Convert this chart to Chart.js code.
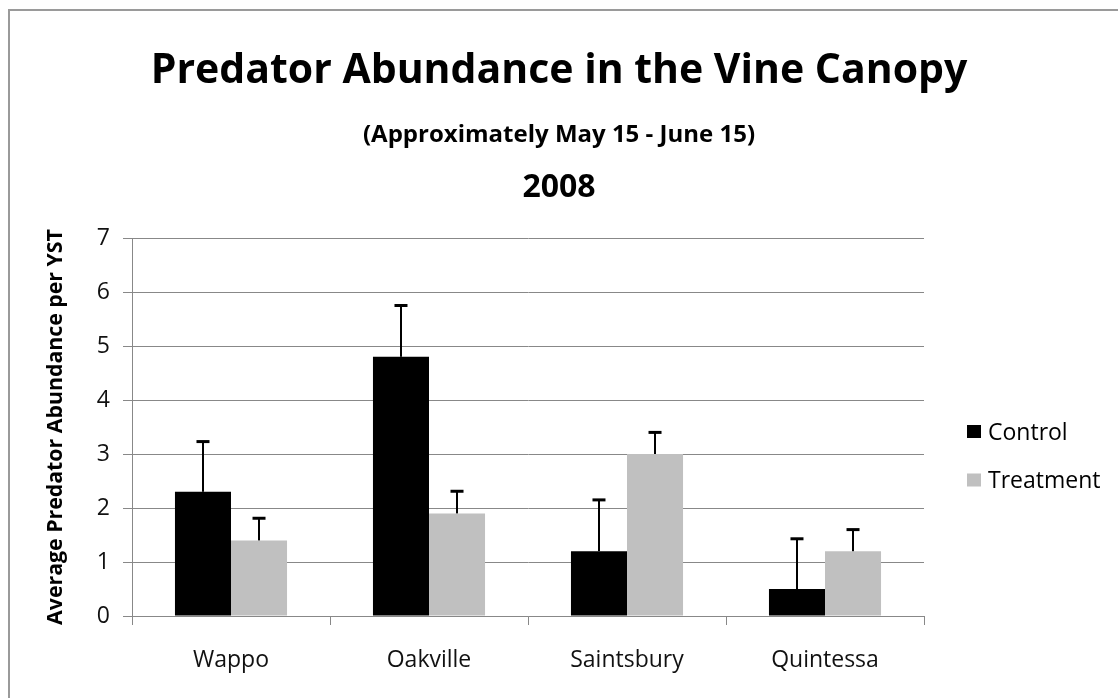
<!DOCTYPE html>
<html><head><meta charset="utf-8">
<script src="https://cdn.jsdelivr.net/npm/chart.js@4.4.1/dist/chart.umd.min.js"></script>
<style>
html,body{margin:0;padding:0;background:#fff;overflow:hidden;}
#frame{position:absolute;left:8px;top:9px;width:1300px;height:900px;border-left:2px solid #9a9a9a;border-top:2px solid #9a9a9a;}
#wrap{position:absolute;left:0;top:0;width:1118px;height:698px;}
</style></head><body>
<div id="frame"></div>
<div id="wrap"><canvas id="c" width="1118" height="698"></canvas></div>
<script>
const categories = ['Wappo', 'Oakville', 'Saintsbury', 'Quintessa'];
const seriesNames = ['Control', 'Treatment'];
const controlValues = [2.3, 4.8, 1.2, 0.5];
const treatmentValues = [1.4, 1.9, 3.0, 1.2];
const controlErrors = [0.93, 0.95, 0.95, 0.93];
const treatmentErrors = [0.41, 0.41, 0.40, 0.40];
const yTicks = [0, 1, 2, 3, 4, 5, 6, 7];
const titleLines = ['Predator Abundance in the Vine Canopy', '(Approximately May 15 - June 15)', '2008'];
const yAxisTitle = 'Average Predator Abundance per YST';

const FONT = '"Open Sans", Lato, sans-serif';
const GRID = '#888888';

const errorBars = {
  id: 'errorBars',
  afterDatasetsDraw(chart) {
    const ctx = chart.ctx, ys = chart.scales.y;
    chart.data.datasets.forEach((ds, di) => {
      const meta = chart.getDatasetMeta(di);
      meta.data.forEach((bar, i) => {
        const top = ys.getPixelForValue(ds.data[i] + ds.errors[i]);
        ctx.save();
        ctx.strokeStyle = '#000';
        ctx.lineWidth = 2;
        ctx.beginPath();
        ctx.moveTo(bar.x, bar.y);
        ctx.lineTo(bar.x, top);
        ctx.stroke();
        ctx.lineWidth = 3;
        ctx.beginPath();
        ctx.moveTo(bar.x - 6.5, top);
        ctx.lineTo(bar.x + 6.5, top);
        ctx.stroke();
        ctx.restore();
      });
    });
  }
};

const titles = {
  id: 'titles',
  afterDraw(chart) {
    const ctx = chart.ctx, cx = chart.width / 2;
    const specs = [
      {size: 41, y: 83},
      {size: 24, y: 142},
      {size: 32, y: 197}
    ];
    ctx.save();
    ctx.fillStyle = '#000';
    ctx.textAlign = 'center';
    ctx.textBaseline = 'alphabetic';
    titleLines.forEach((t, i) => {
      ctx.font = 'bold ' + specs[i].size + 'px ' + FONT;
      ctx.fillText(t, cx, specs[i].y);
    });
    ctx.restore();
  }
};

const sideLegend = {
  id: 'sideLegend',
  afterDraw(chart) {
    const ctx = chart.ctx;
    const x = chart.chartArea.right + 43;
    const rows = [431.5, 480];
    ctx.save();
    ctx.font = '23px ' + FONT;
    ctx.textBaseline = 'alphabetic';
    ctx.textAlign = 'left';
    chart.data.datasets.forEach((ds, i) => {
      const cy = rows[i];
      ctx.fillStyle = ds.backgroundColor;
      ctx.fillRect(x, cy - 6.5, 14, 13);
      ctx.fillStyle = '#000';
      ctx.fillText(ds.label, x + 21, cy + 8);
    });
    ctx.restore();
  }
};

new Chart(document.getElementById('c'), {
  type: 'bar',
  data: {
    labels: categories,
    datasets: [
      {label: seriesNames[0], data: controlValues, errors: controlErrors, backgroundColor: '#000000', borderWidth: 0},
      {label: seriesNames[1], data: treatmentValues, errors: treatmentErrors, backgroundColor: '#c0c0c0', borderWidth: 0}
    ]
  },
  options: {
    responsive: false,
    animation: false,
    events: [],
    layout: {padding: {left: 10, top: 238, right: 194, bottom: 22}},
    datasets: {bar: {categoryPercentage: 0.566, barPercentage: 1.0}},
    plugins: {legend: {display: false}, title: {display: false}, tooltip: {enabled: false}},
    scales: {
      x: {
        grid: {offset: true, drawOnChartArea: false, drawTicks: true, tickLength: 9, color: GRID, lineWidth: 1},
        border: {color: GRID, width: 1},
        ticks: {color: '#111', padding: 22, font: {family: FONT, size: 23}},
        afterFit(s) { s.height = 60; }
      },
      y: {
        min: 0, max: 7,
        afterBuildTicks(s) { s.ticks = yTicks.map(v => ({value: v})); },
        grid: {color: GRID, lineWidth: 1, tickLength: 9},
        border: {color: GRID, width: 1},
        ticks: {color: '#111', padding: 13, font: {family: FONT, size: 23}},
        title: {display: true, text: yAxisTitle, color: '#000', font: {family: FONT, size: 21.3, weight: 'bold'}, padding: {top: 33, bottom: 0}},
        afterFit(s) { s.width = 122; }
      }
    }
  },
  plugins: [errorBars, titles, sideLegend]
});
</script>
</body></html>
